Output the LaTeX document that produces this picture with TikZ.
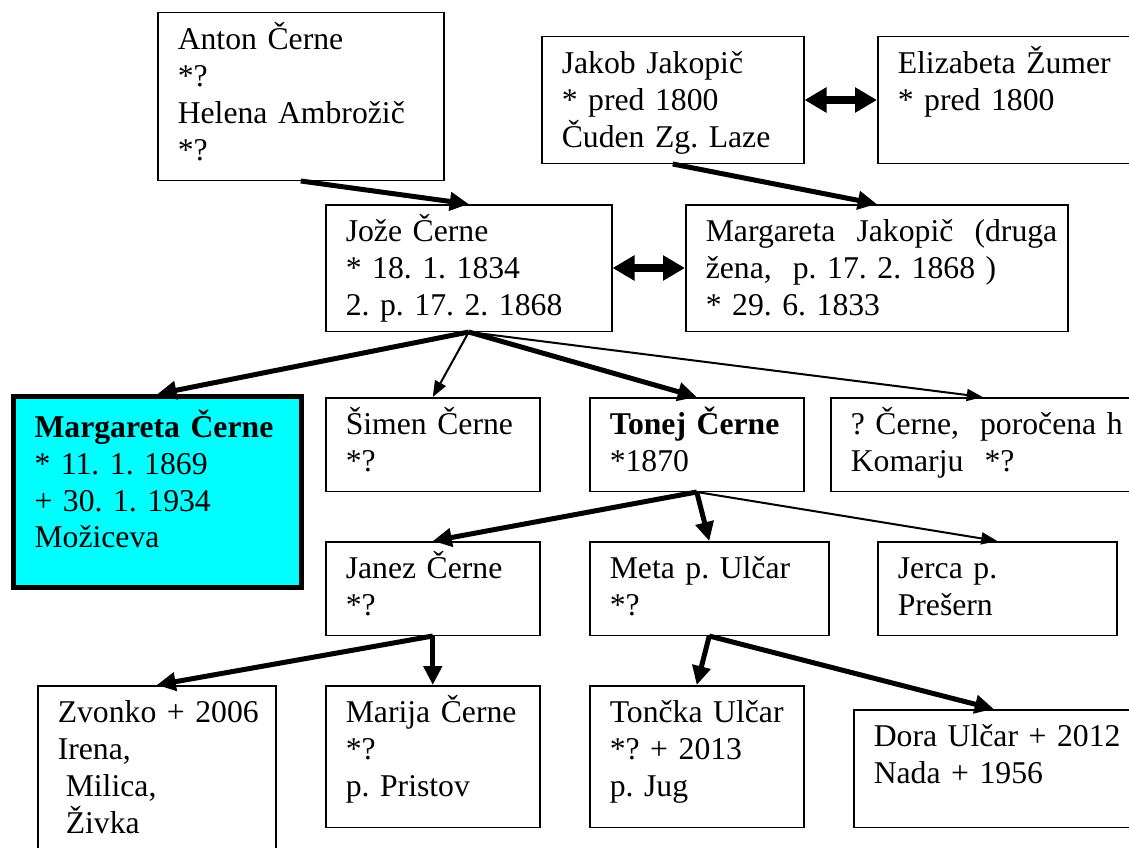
\documentclass[tikz,border=0pt]{standalone}
\usepackage{fontspec}
\setmainfont{Liberation Serif}
\usetikzlibrary{arrows.meta}
\definecolor{boxcyan}{RGB}{0,255,255}
\newcommand{\famfont}{\fontsize{31.7pt}{36.8pt}\selectfont}
\tikzset{
    person/.style 2 args={draw, line width=1.5pt, anchor=north west, align=left,
        inner xsep=20pt, inner ysep=0pt, text height=37pt,
        text width=#1, text depth=#2, font=\famfont},
    heir/.style={line width=5pt, -{Triangle[length=19pt, width=18pt]}},
    child/.style={line width=2pt, -{Triangle[length=16pt, width=12pt]}},
    spouse/.style={line width=8pt, {Triangle[length=22pt, width=24pt]}-{Triangle[length=22pt, width=24pt]}},
}
\begin{document}
\begin{tikzpicture}[x=1pt, y=-1pt]
    \useasboundingbox (0,0) rectangle (1129,848);
    \node[person={246pt}{130.5pt}] (anton) at (157,12) {Anton~Černe\\{}*?\\ Helena~Ambrožič\\{}*?};
    \node[person={222pt}{89.5pt}] (jakob) at (541,36) {Jakob~Jakopič\\{}*~pred~1800\\ Čuden~Zg.~Laze};
    \node[person={216pt}{89.5pt}] (elizabeta) at (877,36) {Elizabeta~Žumer\\{}*~pred~1800};
    \node[person={246pt}{89.5pt}] (joze) at (325,204) {Jože~Černe\\{}*~18.~1.~1834\\ 2.~p.~17.~2.~1868};
    \node[person={342pt}{89.5pt}] (mjakopic) at (685,204) {Margareta~~Jakopič~~(druga\\ žena,~~p.~17.~2.~1868~)\\{}*~29.~6.~1833};
    \node[person={246pt}{150pt}, line width=5pt, fill=boxcyan, inner xsep=21pt, text height=41pt] (mcerne) at (11,394)
        {\textbf{Margareta~Černe}\\{}*~11.~1.~1869\\ +~30.~1.~1934\\ Možiceva};
    \node[person={174pt}{56.5pt}] (simen) at (325,397) {Šimen~Černe\\{}*?};
    \node[person={174pt}{56.5pt}] (tonej) at (589,397) {\textbf{Tonej~Černe}\\{}*1870};
    \node[person={264pt}{56.5pt}] (qcerne) at (830,397) {?~Černe,~~poročena~h\\ Komarju~~*?};
    \node[person={174pt}{56.5pt}] (janez) at (325,541) {Janez~Černe\\{}*?};
    \node[person={199pt}{56.5pt}] (meta) at (589,541) {Meta~p.~Ulčar\\{}*?};
    \node[person={199pt}{56.5pt}] (jerca) at (877,541) {Jerca~p.\\ Prešern};
    \node[person={198pt}{161.5pt}] (zvonko) at (37,685) {Zvonko~+~2006\\ Irena,\\ \hspace*{8pt}Milica,\\ \hspace*{8pt}Živka};
    \node[person={174pt}{104.5pt}] (marija) at (325,685) {Marija~Černe\\{}*?\\ p.~Pristov};
    \node[person={174pt}{104.5pt}] (toncka) at (589,685) {Tončka~Ulčar\\{}*?~+~2013\\ p.~Jug};
    \node[person={240pt}{80.5pt}] (dora) at (853,709) {Dora~Ulčar~+~2012\\ Nada~+~1956};

    \draw[spouse] (jakob.east) -- (elizabeta.west);
    \draw[spouse] (joze.east) -- (mjakopic.west);

    \draw[heir] (anton.south) -- (joze.north);
    \draw[heir] (jakob.south) -- (mjakopic.north);
    \draw[heir] (joze.south) -- (mcerne.north);
    \draw[child] (joze.south) -- (simen.north);
    \draw[heir] (joze.south) -- (tonej.north);
    \draw[child] (joze.south) -- (qcerne.north);
    \draw[heir] (tonej.south) -- (janez.north);
    \draw[heir] (tonej.south) -- (meta.north);
    \draw[child] (tonej.south) -- (jerca.north);
    \draw[heir] (janez.south) -- (zvonko.north);
    \draw[heir] (janez.south) -- (marija.north);
    \draw[heir] (meta.south) -- (toncka.north);
    \draw[heir] (meta.south) -- (dora.north);
\end{tikzpicture}
\end{document}
